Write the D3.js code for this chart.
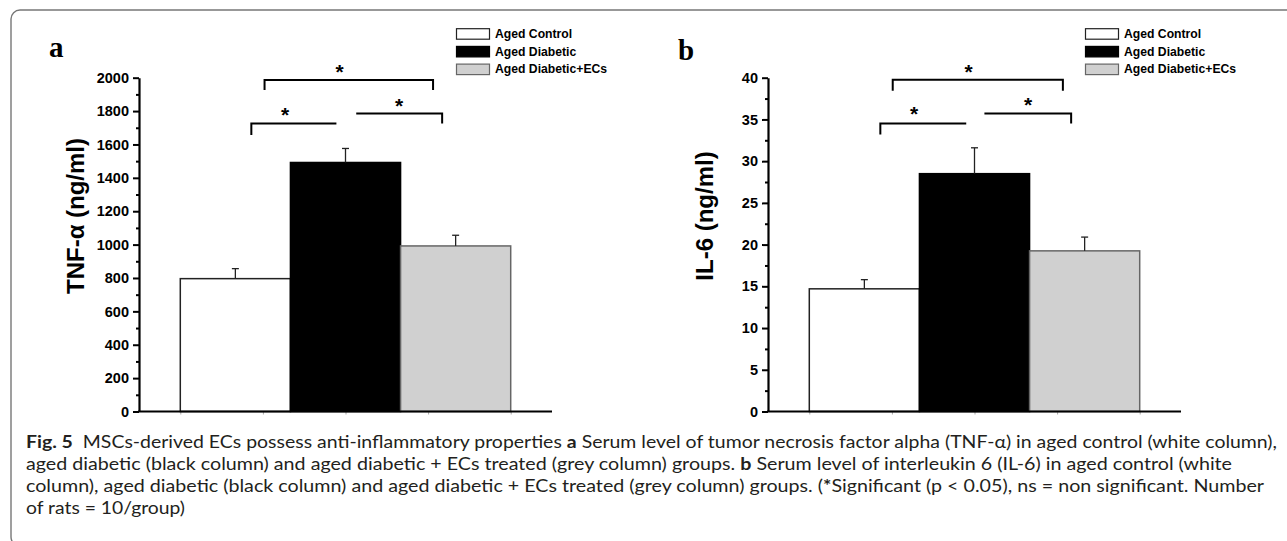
<!DOCTYPE html>
<html>
<head>
<meta charset="utf-8">
<script src="https://cdn.jsdelivr.net/npm/d3@7"></script>
<style>
  body { margin: 0; background: #fff; }
  svg text { font-family: "Liberation Sans", Arial, sans-serif; }
</style>
</head>
<body>
<div id="chart"></div>
<script>
// groups / legend
const groups = ['Aged Control', 'Aged Diabetic', 'Aged Diabetic+ECs'];
const fills = ['#ffffff', '#000000', '#d0d0d0'];
const strokes = ['#222', '#000', '#666'];

// panel a : TNF-alpha
const tnfMean = [796, 1492, 992];
const tnfErr = [60, 84, 64];
const tnfTicks = d3.range(0, 2001, 200);
// panel b : IL-6
const il6Mean = [14.7, 28.5, 19.25];
const il6Err = [1.1, 3.1, 1.65];
const il6Ticks = d3.range(0, 41, 5);

// significance brackets (x in axis units 0..5, y in data units)
const tnfBrackets = [
  { x1: 1.52, x2: 3.56, y: 1986, leg: 1926, legs: 'both', sx: 2.43, sy: 2061 },
  { x1: 1.36, x2: 2.39, y: 1726, leg: 1656, legs: 'left', sx: 1.77, sy: 1800 },
  { x1: 2.63, x2: 3.67, y: 1786, leg: 1726, legs: 'right', sx: 3.15, sy: 1854 }
];
const il6Brackets = [
  { x1: 1.51, x2: 3.57, y: 39.75, leg: 38.45, legs: 'both', sx: 2.43, sy: 41.2 },
  { x1: 1.36, x2: 2.40, y: 34.5, leg: 33.2, legs: 'left', sx: 1.77, sy: 36.15 },
  { x1: 2.62, x2: 3.67, y: 35.7, leg: 34.5, legs: 'right', sx: 3.15, sy: 37.2 }
];

const W = 1287, H = 541;
const svg = d3.select('#chart').append('svg')
  .attr('width', W).attr('height', H);

// figure frame
svg.append('rect')
  .attr('x', 11).attr('y', 10)
  .attr('width', 1300).attr('height', 536)
  .attr('rx', 9)
  .attr('fill', 'none')
  .attr('stroke', '#777')
  .attr('stroke-width', 1.4);

function drawPanel(p) {
  const g = svg.append('g');
  const x = d3.scaleLinear().domain([0, 5]).range([p.left, p.left + 413]);
  const y = d3.scaleLinear().domain([0, p.max]).range([411.5, 77.7]);
  const band = d3.scaleBand().domain(groups).range([x(0.5), x(4.5)]).padding(0);

  // minor ticks along the bottom
  g.append('g')
    .attr('transform', `translate(0, ${y(0)})`)
    .call(d3.axisBottom(x).tickValues([0.5, 1.5, 2.5, 3.5, 4.5]).tickSize(3).tickFormat(''))
    .call(a => a.select('.domain').remove())
    .call(a => a.selectAll('line').attr('stroke', '#aaa').attr('stroke-width', 1));

  // bars
  g.selectAll('.bar')
    .data(p.mean)
    .enter()
    .append('rect')
    .attr('class', 'bar')
    .attr('x', (d, i) => band(groups[i]))
    .attr('y', d => y(d))
    .attr('width', band.bandwidth())
    .attr('height', d => y(0) - y(d))
    .attr('fill', (d, i) => fills[i])
    .attr('stroke', (d, i) => strokes[i])
    .attr('stroke-width', 1.5);

  // error bars (upper only)
  const eb = g.selectAll('.err')
    .data(p.mean)
    .enter()
    .append('g')
    .attr('class', 'err')
    .attr('stroke', '#222')
    .attr('stroke-width', 1.3);
  eb.append('line')
    .attr('x1', (d, i) => band(groups[i]) + band.bandwidth() / 2)
    .attr('x2', (d, i) => band(groups[i]) + band.bandwidth() / 2)
    .attr('y1', d => y(d))
    .attr('y2', (d, i) => y(d + p.err[i]));
  eb.append('line')
    .attr('x1', (d, i) => band(groups[i]) + band.bandwidth() / 2 - 3.5)
    .attr('x2', (d, i) => band(groups[i]) + band.bandwidth() / 2 + 3.5)
    .attr('y1', (d, i) => y(d + p.err[i]))
    .attr('y2', (d, i) => y(d + p.err[i]));

  // y axis, major + minor ticks
  const step = p.ticks[1] - p.ticks[0];
  const minor = p.ticks.slice(0, -1).map(t => t + step / 2);
  g.append('g')
    .attr('transform', `translate(${x(0)}, 0)`)
    .call(d3.axisLeft(y).tickValues(minor).tickSize(3).tickFormat(''))
    .call(a => a.select('.domain').remove())
    .call(a => a.selectAll('line').attr('stroke', '#000').attr('stroke-width', 2));
  const yAxis = g.append('g')
    .attr('transform', `translate(${x(0)}, 0)`)
    .call(d3.axisLeft(y).tickValues(p.ticks).tickFormat(d3.format('d'))
      .tickSize(6).tickSizeOuter(0).tickPadding(4));
  yAxis.select('.domain').attr('stroke-width', 2.2);
  yAxis.selectAll('line').attr('stroke-width', 2);
  yAxis.selectAll('text')
    .attr('font-size', 14.5)
    .attr('font-weight', 'bold')
    .attr('fill', '#000');

  // x axis baseline
  g.append('line')
    .attr('x1', x(0) - 1).attr('x2', x(5))
    .attr('y1', y(0)).attr('y2', y(0))
    .attr('stroke', '#000')
    .attr('stroke-width', 2.2);

  // y title
  g.append('text')
    .attr('transform', `translate(${p.left - 55}, 216) rotate(-90)`)
    .attr('text-anchor', 'middle')
    .attr('font-size', 24)
    .attr('font-weight', 'bold')
    .text(p.title);

  // panel letter
  g.append('text')
    .attr('x', p.left - 90).attr('y', p.letterY)
    .style('font-family', '"Liberation Serif", "Times New Roman", serif')
    .attr('font-size', 29)
    .attr('font-weight', 'bold')
    .text(p.letter);

  // brackets
  const br = g.selectAll('.bracket')
    .data(p.brackets)
    .enter()
    .append('g')
    .attr('class', 'bracket');
  br.append('path')
    .attr('fill', 'none')
    .attr('stroke', '#000')
    .attr('stroke-width', 2)
    .attr('d', d => {
      const l = d.legs === 'both' || d.legs === 'left';
      const r = d.legs === 'both' || d.legs === 'right';
      return (l ? `M${x(d.x1)},${y(d.leg)}L${x(d.x1)},${y(d.y)}` : `M${x(d.x1)},${y(d.y)}`) +
        `L${x(d.x2)},${y(d.y)}` + (r ? `L${x(d.x2)},${y(d.leg)}` : '');
    });
  br.append('text')
    .attr('x', d => x(d.sx))
    .attr('y', d => y(d.sy) + 11)
    .attr('text-anchor', 'middle')
    .attr('font-size', 21)
    .attr('font-weight', 'bold')
    .text('*');

  // legend
  const lg = g.selectAll('.legend')
    .data(groups)
    .enter()
    .append('g')
    .attr('class', 'legend')
    .attr('transform', (d, i) => `translate(${p.left + 317.5}, ${28.7 + i * 17.7})`);
  lg.append('rect')
    .attr('width', 33).attr('height', 10.5)
    .attr('fill', (d, i) => fills[i])
    .attr('stroke', (d, i) => strokes[i])
    .attr('stroke-width', 1.2);
  lg.append('text')
    .attr('x', 38.5).attr('y', 9.2)
    .attr('font-size', 12.2)
    .attr('font-weight', 'bold')
    .text(d => d);
}

drawPanel({ left: 139, max: 2000, mean: tnfMean, err: tnfErr, ticks: tnfTicks,
  brackets: tnfBrackets, title: 'TNF-α (ng/ml)', letter: 'a', letterY: 57 });
drawPanel({ left: 768, max: 40, mean: il6Mean, err: il6Err, ticks: il6Ticks,
  brackets: il6Brackets, title: 'IL-6 (ng/ml)', letter: 'b', letterY: 60 });

// caption
const caption = [
  { end: 1277, parts: [['Fig. 5', true], ['  MSCs-derived ECs possess anti-inflammatory properties ', false], ['a', true],
    [' Serum level of tumor necrosis factor alpha (TNF-α) in aged control (white column),', false]] },
  { end: 1232, parts: [['aged diabetic (black column) and aged diabetic + ECs treated (grey column) groups. ', false], ['b', true],
    [' Serum level of interleukin 6 (IL-6) in aged control (white', false]] },
  { end: 1264, parts: [['column), aged diabetic (black column) and aged diabetic + ECs treated (grey column) groups. (', false], ['*', true],
    ['Significant (p < 0.05), ns = non significant. Number', false]] },
  { end: 185, parts: [['of rats = 10/group)', false]] }
];
caption.forEach((line, i) => {
  const t = svg.append('text')
    .attr('x', 26).attr('y', 448 + i * 22)
    .style('font-family', 'Lato, "Open Sans", sans-serif')
    .attr('font-size', 16.5)
    .attr('fill', '#231f20')
    .attr('xml:space', 'preserve')
    .style('white-space', 'pre')
    .attr('textLength', line.end - 26)
    .attr('lengthAdjust', 'spacingAndGlyphs');
  line.parts.forEach(pt => {
    t.append('tspan')
      .attr('font-weight', pt[1] ? 'bold' : 'normal')
      .text(pt[0]);
  });
});
</script>
</body>
</html>
